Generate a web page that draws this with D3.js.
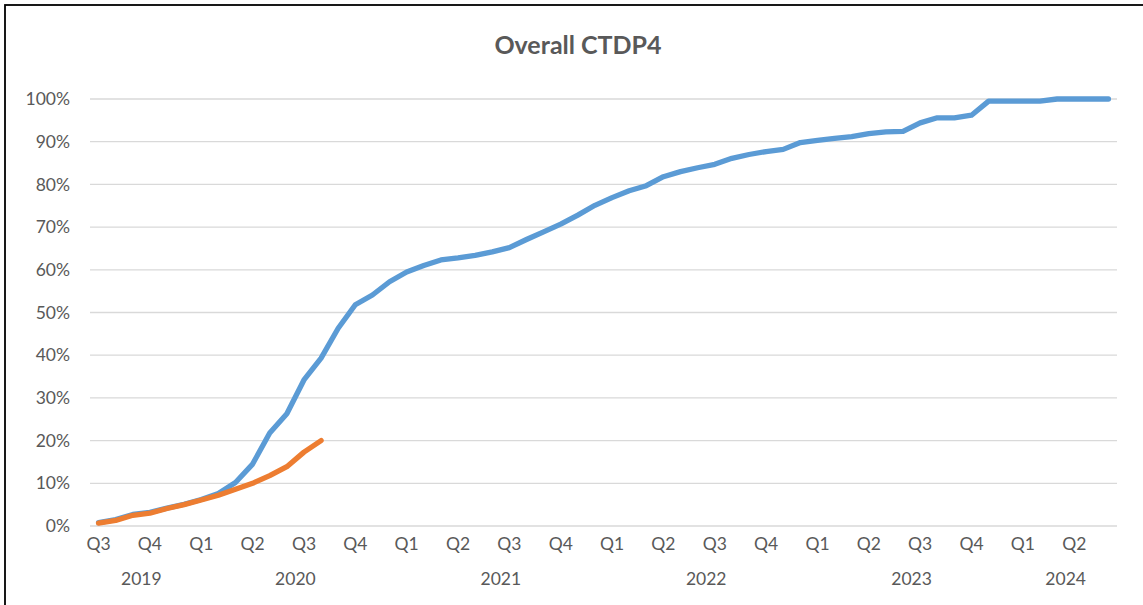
<!DOCTYPE html>
<html>
<head>
<meta charset="utf-8">
<script src="https://cdn.jsdelivr.net/npm/d3@7/dist/d3.min.js"></script>
<style>
  html, body { margin: 0; padding: 0; background: #fff; }
  svg { display: block; }
</style>
</head>
<body>
<svg id="chart" width="1143" height="605"></svg>
<script>
// ---- Data ----
const title = "Overall CTDP4";
// monthly categories Jul 2019 .. Jun 2024
const months = d3.range(60);
const quarterLabels = ["Q3","Q4","Q1","Q2","Q3","Q4","Q1","Q2","Q3","Q4","Q1","Q2","Q3","Q4","Q1","Q2","Q3","Q4","Q1","Q2"];
const yearLabels = ["2019","2020","2021","2022","2023","2024"];
const yearMonthCounts = [6, 12, 12, 12, 12, 6];
const yTicks = [0, 10, 20, 30, 40, 50, 60, 70, 80, 90, 100];

const seriesBlue = [0.8,1.5,2.7,3.2,4.2,5.1,6.2,7.6,10.2,14.5,21.8,26.3,34.2,39.3,46.3,51.8,54.1,57.2,59.5,61.0,
  62.3,62.8,63.4,64.2,65.2,67.1,68.9,70.7,72.8,75.1,76.9,78.5,79.7,81.8,83.0,83.9,84.7,86.1,87.0,87.7,
  88.2,89.8,90.3,90.8,91.2,91.9,92.3,92.4,94.4,95.6,95.6,96.2,99.5,99.5,99.5,99.5,100,100,100,100];
const seriesOrange = [0.7,1.3,2.5,3.0,4.1,5.0,6.1,7.2,8.6,10.0,11.8,13.9,17.3,20.0];

// ---- Layout ----
const svg = d3.select("#chart");
const plot = { left: 90, right: 1117, top: 99, bottom: 526 };
const textColor = "#595959";
const font = "Lato, 'Open Sans', sans-serif";

// border (only top and left visible in reference)
svg.append("rect")
  .attr("x", 5).attr("y", 5).attr("width", 1160).attr("height", 620)
  .attr("fill", "#fff").attr("stroke", "#000").attr("stroke-width", 1.8);

const x = d3.scaleBand().domain(months).range([plot.left, plot.right]).padding(0);
const xc = i => x(i) + x.bandwidth() / 2;
const y = d3.scaleLinear().domain([0, 100]).range([plot.bottom, plot.top]);

// gridlines
svg.append("g")
  .selectAll("line").data(yTicks).join("line")
  .attr("x1", plot.left).attr("x2", plot.right)
  .attr("y1", d => y(d)).attr("y2", d => y(d))
  .attr("stroke", "#d9d9d9").attr("stroke-width", 1.3);

// y axis labels
const yAxis = d3.axisLeft(y).tickValues(yTicks).tickFormat(d => d + "%").tickSize(0).tickPadding(20);
const yg = svg.append("g").attr("transform", `translate(${plot.left},0)`).call(yAxis);
yg.select(".domain").remove();
yg.selectAll("text").attr("fill", textColor).style("font-family", font).style("font-size", "17.5px");

// quarter labels (at first month of each quarter)
const xAxis = d3.axisBottom(x)
  .tickValues(months.filter(m => m % 3 === 0))
  .tickFormat(m => quarterLabels[m / 3])
  .tickSize(0).tickPadding(12);
const xg = svg.append("g").attr("transform", `translate(0,${plot.bottom})`).call(xAxis);
xg.select(".domain").remove();
xg.selectAll("text").attr("fill", textColor).style("font-family", font).style("font-size", "17.5px");

// year labels centred on their month spans
let start = 0;
const yearPos = yearMonthCounts.map(c => {
  const s = start, e = start + c - 1; start += c;
  return (x(s) + x(e) + x.bandwidth()) / 2;
});
svg.append("g").selectAll("text").data(yearLabels).join("text")
  .attr("x", (d, i) => yearPos[i]).attr("y", 585)
  .attr("text-anchor", "middle")
  .attr("fill", textColor).style("font-family", font).style("font-size", "17.5px")
  .text(d => d);

// lines
const line = d3.line().x((d, i) => xc(i)).y(d => y(d));
svg.append("path").datum(seriesBlue).attr("d", line)
  .attr("fill", "none").attr("stroke", "#5B9BD5").attr("stroke-width", 5.3)
  .attr("stroke-linejoin", "round").attr("stroke-linecap", "round");
svg.append("path").datum(seriesOrange).attr("d", line)
  .attr("fill", "none").attr("stroke", "#ED7D31").attr("stroke-width", 5.3)
  .attr("stroke-linejoin", "round").attr("stroke-linecap", "round");

// title
svg.append("text").attr("x", 578).attr("y", 54).attr("text-anchor", "middle")
  .attr("fill", textColor).style("font-family", font).style("font-size", "25px").style("font-weight", "bold")
  .text(title);
</script>
</body>
</html>
